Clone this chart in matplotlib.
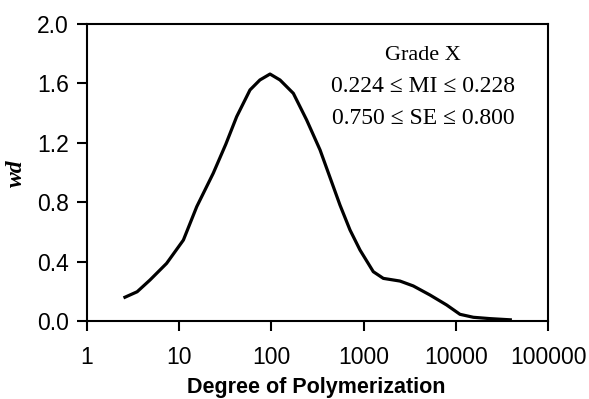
import numpy as np
import matplotlib.pyplot as plt

# degree of polymerization vs weight distribution
dp = [2.58, 3.5, 4.82, 7.3, 11.1, 15.5, 23.4, 32, 42, 58.6, 75, 96.6, 124, 173,
      241, 337, 555, 712, 914, 1274, 1637, 2480, 3460, 5250, 7950, 11100, 15500,
      23500, 39000]
wd = [0.16, 0.197, 0.276, 0.388, 0.545, 0.77, 0.995, 1.19, 1.376, 1.556, 1.623,
      1.663, 1.623, 1.533, 1.354, 1.152, 0.78, 0.613, 0.478, 0.332, 0.287, 0.269,
      0.236, 0.175, 0.108, 0.045, 0.025, 0.016, 0.008]

yticks = [0.0, 0.4, 0.8, 1.2, 1.6, 2.0]
xticks = [1, 10, 100, 1000, 10000, 100000]

fig = plt.figure(figsize=(5.89, 3.99), dpi=100)
ax = fig.add_axes([87/589, 1-321/399, (548-87)/589, (321-24)/399])

ax.plot(dp, wd, color='black', lw=2.3, solid_joinstyle='round')

ax.set_xscale('log')
ax.set_xlim(1, 100000)
ax.set_ylim(0, 2.0)
ax.set_xticks(xticks)
ax.set_xticklabels([str(t) for t in xticks])
ax.minorticks_off()
ax.set_yticks(yticks)
ax.set_yticklabels(['%.1f' % t for t in yticks])
ax.tick_params(direction='out', length=7, width=1.5, labelsize=16.5, pad=6)
ax.tick_params(axis='x', pad=11)
for s in ax.spines.values():
    s.set_linewidth(1.5)

for lab in ax.get_xticklabels() + ax.get_yticklabels():
    lab.set_family('Liberation Sans')

fig.text(316/589, 1-387/399, 'Degree of Polymerization', ha='center', va='center',
         fontsize=15.5, fontweight='bold', family='Liberation Sans')
fig.text(16/589, 1-173/399, 'wd', ha='center', va='center', rotation=90,
         fontsize=17, fontweight='bold', style='italic', family='Liberation Serif')

ax.text(423/589, 1-55/399, 'Grade X', transform=fig.transFigure, ha='center', va='center',
        fontsize=16, family='Liberation Serif')
ax.text(423/589, 1-87/399, '0.224 ≤ MI ≤ 0.228', transform=fig.transFigure, ha='center',
        va='center', fontsize=17, family='Liberation Serif')
ax.text(423/589, 1-119/399, '0.750 ≤ SE ≤ 0.800', transform=fig.transFigure, ha='center',
        va='center', fontsize=17, family='Liberation Serif')

fig.savefig('out.png', dpi=100)
